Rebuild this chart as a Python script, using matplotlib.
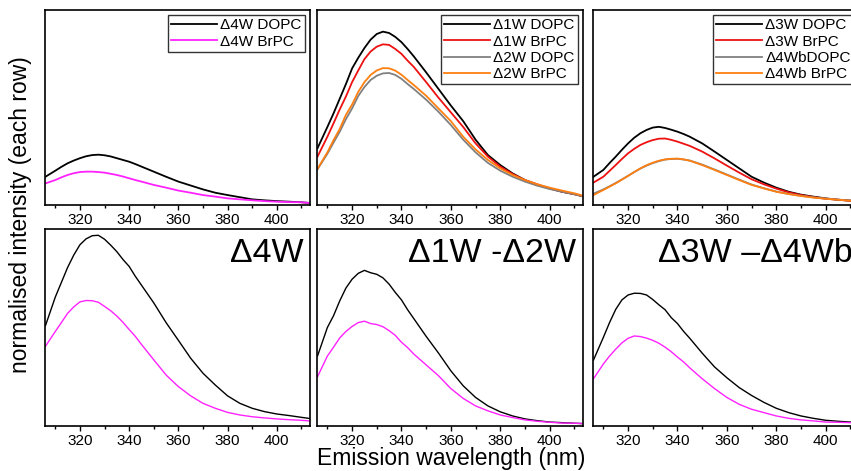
import matplotlib
matplotlib.use("Agg")
import matplotlib.pyplot as plt

plt.rcParams["font.family"] = ["Liberation Sans", "DejaVu Sans"]

# wavelength grid (nm) shared by every curve, denser around the peaks
WL = [306, 310, 312.5, 315, 317.5, 320, 322.5, 325, 327.5, 330, 332.5, 335,
      337.5, 340, 342.5, 345, 350, 355, 360, 365, 370, 375, 380, 385, 390,
      395, 400, 405, 410, 414]

# ---- top row: normalised spectra -------------------------------------------
d4w_dopc_top = [.145, .176, .196, .214, .228, .240, .250, .256, .258, .255, .249, .240,
                .231, .222, .210, .197, .171, .145, .120, .100, .080, .063, .051,
                .040, .029, .024, .020, .017, .014, .010]
d4w_brpc_top = [.111, .128, .142, .154, .163, .169, .171, .171, .169, .166, .160, .154,
                .146, .137, .128, .120, .103, .089, .074, .063, .051, .043, .034,
                .029, .024, .020, .017, .015, .014, .009]

d1w_dopc = [.291, .400, .470, .545, .620, .700, .755, .805, .848, .877, .889, .882,
            .862, .835, .800, .762, .680, .595, .510, .430, .335, .256, .205,
            .162, .128, .103, .085, .068, .056, .043]
d1w_brpc = [.248, .350, .419, .490, .556, .630, .690, .748, .787, .812, .824, .821,
            .800, .775, .740, .708, .630, .550, .475, .400, .316, .248, .197,
            .159, .128, .106, .085, .068, .055, .043]
d2w_dopc = [.183, .263, .320, .376, .440, .495, .559, .605, .641, .663, .675, .677,
            .667, .647, .620, .595, .540, .478, .410, .335, .270, .216, .176,
            .145, .120, .099, .082, .068, .055, .043]
d2w_brpc = [.185, .270, .333, .390, .462, .515, .580, .630, .667, .690, .702, .701,
            .689, .668, .641, .615, .560, .495, .430, .350, .285, .231, .188,
            .154, .128, .106, .089, .074, .060, .046]

d3w_dopc = [.145, .180, .215, .248, .283, .316, .345, .368, .385, .397, .401, .395,
            .386, .376, .364, .350, .316, .274, .231, .188, .145, .115, .089,
            .068, .053, .043, .034, .027, .022, .019]
d3w_brpc = [.115, .145, .175, .205, .236, .265, .288, .308, .322, .333, .340, .341,
            .334, .325, .314, .303, .274, .239, .202, .166, .132, .106, .084,
            .065, .051, .041, .032, .027, .022, .019]
d4wb_dopc = [.058, .080, .096, .113, .131, .150, .169, .187, .202, .215, .225, .233,
             .236, .237, .233, .228, .207, .182, .156, .130, .105, .086, .069,
             .057, .047, .039, .033, .028, .023, .019]
d4wb_brpc = [.051, .077, .094, .111, .130, .149, .169, .188, .204, .217, .227, .234,
             .237, .238, .234, .227, .205, .180, .154, .128, .103, .085, .068,
             .056, .046, .038, .032, .027, .022, .019]

# ---- bottom row: per-pair panels -------------------------------------------
d4w_dopc_bot = [.510, .655, .730, .805, .868, .920, .950, .966, .968, .948, .918, .885,
                .845, .810, .760, .715, .625, .525, .435, .344, .268, .208, .153,
                .115, .090, .073, .061, .053, .044, .037]
d4w_brpc_bot = [.405, .480, .526, .572, .605, .630, .637, .636, .628, .607, .585, .558,
                .526, .490, .455, .414, .336, .259, .200, .153, .115, .090, .069,
                .056, .047, .041, .036, .032, .029, .025]

d12_dopc = [.355, .500, .560, .635, .700, .745, .775, .790, .778, .770, .752, .720,
            .678, .640, .590, .545, .455, .370, .280, .204, .145, .102, .072,
            .051, .036, .027, .020, .017, .014, .012]
d12_brpc = [.250, .355, .400, .447, .480, .505, .525, .532, .520, .515, .504, .484,
            .460, .425, .398, .365, .310, .255, .190, .140, .102, .077, .056,
            .043, .031, .024, .019, .015, .014, .012]

d34_dopc = [.335, .450, .525, .592, .640, .665, .674, .673, .665, .642, .615, .590,
            .550, .520, .480, .445, .370, .300, .245, .195, .155, .120, .090,
            .068, .051, .039, .029, .024, .020, .019]
d34_brpc = [.240, .315, .355, .390, .422, .445, .457, .454, .446, .435, .420, .400,
            .377, .350, .325, .295, .240, .190, .145, .110, .085, .068, .051,
            .039, .031, .026, .020, .019, .017, .017]

BLACK, RED, GRAY, ORANGE, MAG = "black", "#ee1111", "#808080", "#ff7f10", "#ff22ff"

top_panels = [
    [(d4w_dopc_top, BLACK, "\u03944W DOPC"), (d4w_brpc_top, MAG, "\u03944W BrPC")],
    [(d1w_dopc, BLACK, "\u03941W DOPC"), (d1w_brpc, RED, "\u03941W BrPC"),
     (d2w_dopc, GRAY, "\u03942W DOPC"), (d2w_brpc, ORANGE, "\u03942W BrPC")],
    [(d3w_dopc, BLACK, "\u03943W DOPC"), (d3w_brpc, RED, "\u03943W BrPC"),
     (d4wb_dopc, GRAY, "\u03944WbDOPC"), (d4wb_brpc, ORANGE, "\u03944Wb BrPC")],
]
bot_panels = [
    ([(d4w_dopc_bot, BLACK), (d4w_brpc_bot, MAG)], "\u03944W"),
    ([(d12_dopc, BLACK), (d12_brpc, MAG)], "\u03941W -\u03942W"),
    ([(d34_dopc, BLACK), (d34_brpc, MAG)], "\u03943W \u2013\u03944Wb"),
]

W, H = 851, 471
fig = plt.figure(figsize=(W / 100, H / 100), dpi=100)

cols = [(45, 310), (317, 583), (593, 859)]
rows = [(10, 205), (229, 426)]


def make_ax(col, row):
    (x0, x1), (y0, y1) = cols[col], rows[row]
    ax = fig.add_axes([x0 / W, 1 - y1 / H, (x1 - x0) / W, (y1 - y0) / H])
    ax.set_xlim(305.8, 413.5)
    ax.set_ylim(0, 1)
    ax.set_yticks([])
    ax.set_xticks([320, 340, 360, 380, 400])
    ax.set_xticks([310, 330, 350, 370, 390, 410], minor=True)
    ax.tick_params(axis="x", which="major", direction="out", length=3.5,
                   width=1.0, labelsize=11, pad=2)
    ax.tick_params(axis="x", which="minor", direction="out", length=2.5, width=1.0)
    for s in ax.spines.values():
        s.set_linewidth(1.2)
    return ax


for i, series in enumerate(top_panels):
    ax = make_ax(i, 0)
    for ys, c, lab in series:
        ax.plot(WL, ys, color=c, lw=1.3, label=lab)
    leg = ax.legend(loc="upper right", fontsize=11, frameon=True, fancybox=False,
                    edgecolor="black", borderpad=0.2, labelspacing=0.15,
                    handlelength=3.0, handletextpad=0.2, borderaxespad=0.35)
    leg.get_frame().set_linewidth(1.0)

for i, (series, title) in enumerate(bot_panels):
    ax = make_ax(i, 1)
    for ys, c in series:
        ax.plot(WL, ys, color=c, lw=1.0)
    ax.text(0.975, 0.955, title, transform=ax.transAxes, ha="right", va="top",
            fontsize=24.5)

fig.text(21 / W, 1 - 215 / H, "normalised intensity (each row)", rotation=90,
         ha="center", va="center", fontsize=16.5)
fig.text(451 / W, 1 - 459 / H, "Emission wavelength (nm)", ha="center",
         va="center", fontsize=16.5)

fig.savefig("out.png", dpi=100)
